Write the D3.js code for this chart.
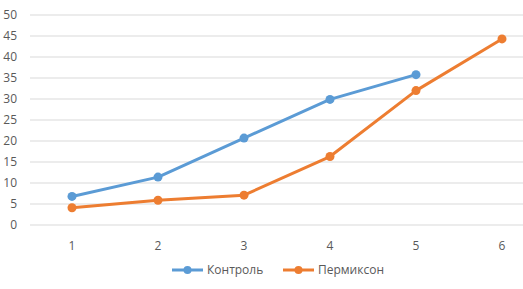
<!DOCTYPE html>
<html>
<head>
<meta charset="utf-8">
<script src="https://cdn.jsdelivr.net/npm/d3@7"></script>
<style>
  body { margin: 0; background: #fff; }
  svg { display: block; font-family: "Open Sans", "Liberation Sans", sans-serif; }
</style>
</head>
<body>
<svg width="523" height="289"></svg>
<script>
var categories = [1, 2, 3, 4, 5, 6];
var yTicks = [0, 5, 10, 15, 20, 25, 30, 35, 40, 45, 50];
var kontrol = [6.8, 11.4, 20.7, 29.9, 35.8];
var permikson = [4.1, 5.9, 7.1, 16.3, 32.0, 44.3];
var seriesNames = ['Контроль', 'Пермиксон'];
var colors = ['#5b9bd5', '#ed7d31'];

var svg = d3.select('svg');

var x = d3.scalePoint().domain(categories).range([72, 502]);
var y = d3.scaleLinear().domain([0, 50]).range([225, 15]);

// grid
svg.append('g').selectAll('line').data(yTicks).enter()
  .append('line')
  .attr('x1', 30).attr('x2', 523)
  .attr('y1', function(d) { return y(d); })
  .attr('y2', function(d) { return y(d); })
  .attr('stroke', '#d9d9d9').attr('stroke-width', 1);

// y labels
svg.append('g').selectAll('text').data(yTicks).enter()
  .append('text')
  .attr('x', 17)
  .attr('y', function(d) { return y(d); })
  .attr('dy', '0.35em')
  .attr('text-anchor', 'end')
  .attr('font-size', 12)
  .attr('fill', '#595959')
  .text(function(d) { return d; });

// x labels
svg.append('g').selectAll('text').data(categories).enter()
  .append('text')
  .attr('x', function(d) { return x(d); })
  .attr('y', 246)
  .attr('dy', '0.35em')
  .attr('text-anchor', 'middle')
  .attr('font-size', 12)
  .attr('fill', '#595959')
  .text(function(d) { return d; });

var line = d3.line()
  .x(function(d, i) { return x(categories[i]); })
  .y(function(d) { return y(d); });

[kontrol, permikson].forEach(function(s, k) {
  var g = svg.append('g');
  g.append('path')
    .attr('d', line(s))
    .attr('fill', 'none')
    .attr('stroke', colors[k])
    .attr('stroke-width', 3)
    .attr('stroke-linejoin', 'round');
  g.selectAll('circle').data(s).enter()
    .append('circle')
    .attr('cx', function(d, i) { return x(categories[i]); })
    .attr('cy', function(d) { return y(d); })
    .attr('r', 4.5)
    .attr('fill', colors[k]);
});

// legend
var legX = [172, 283];
seriesNames.forEach(function(name, k) {
  var g = svg.append('g').attr('transform', 'translate(' + legX[k] + ',270)');
  g.append('line').attr('x1', 0).attr('x2', 31).attr('y1', 0).attr('y2', 0)
    .attr('stroke', colors[k]).attr('stroke-width', 3);
  g.append('circle').attr('cx', 15.5).attr('cy', 0).attr('r', 4).attr('fill', colors[k]);
  g.append('text').attr('x', 35).attr('y', 0).attr('dy', '0.35em')
    .attr('font-size', 12).attr('fill', '#595959').text(name);
});
</script>
</body>
</html>
